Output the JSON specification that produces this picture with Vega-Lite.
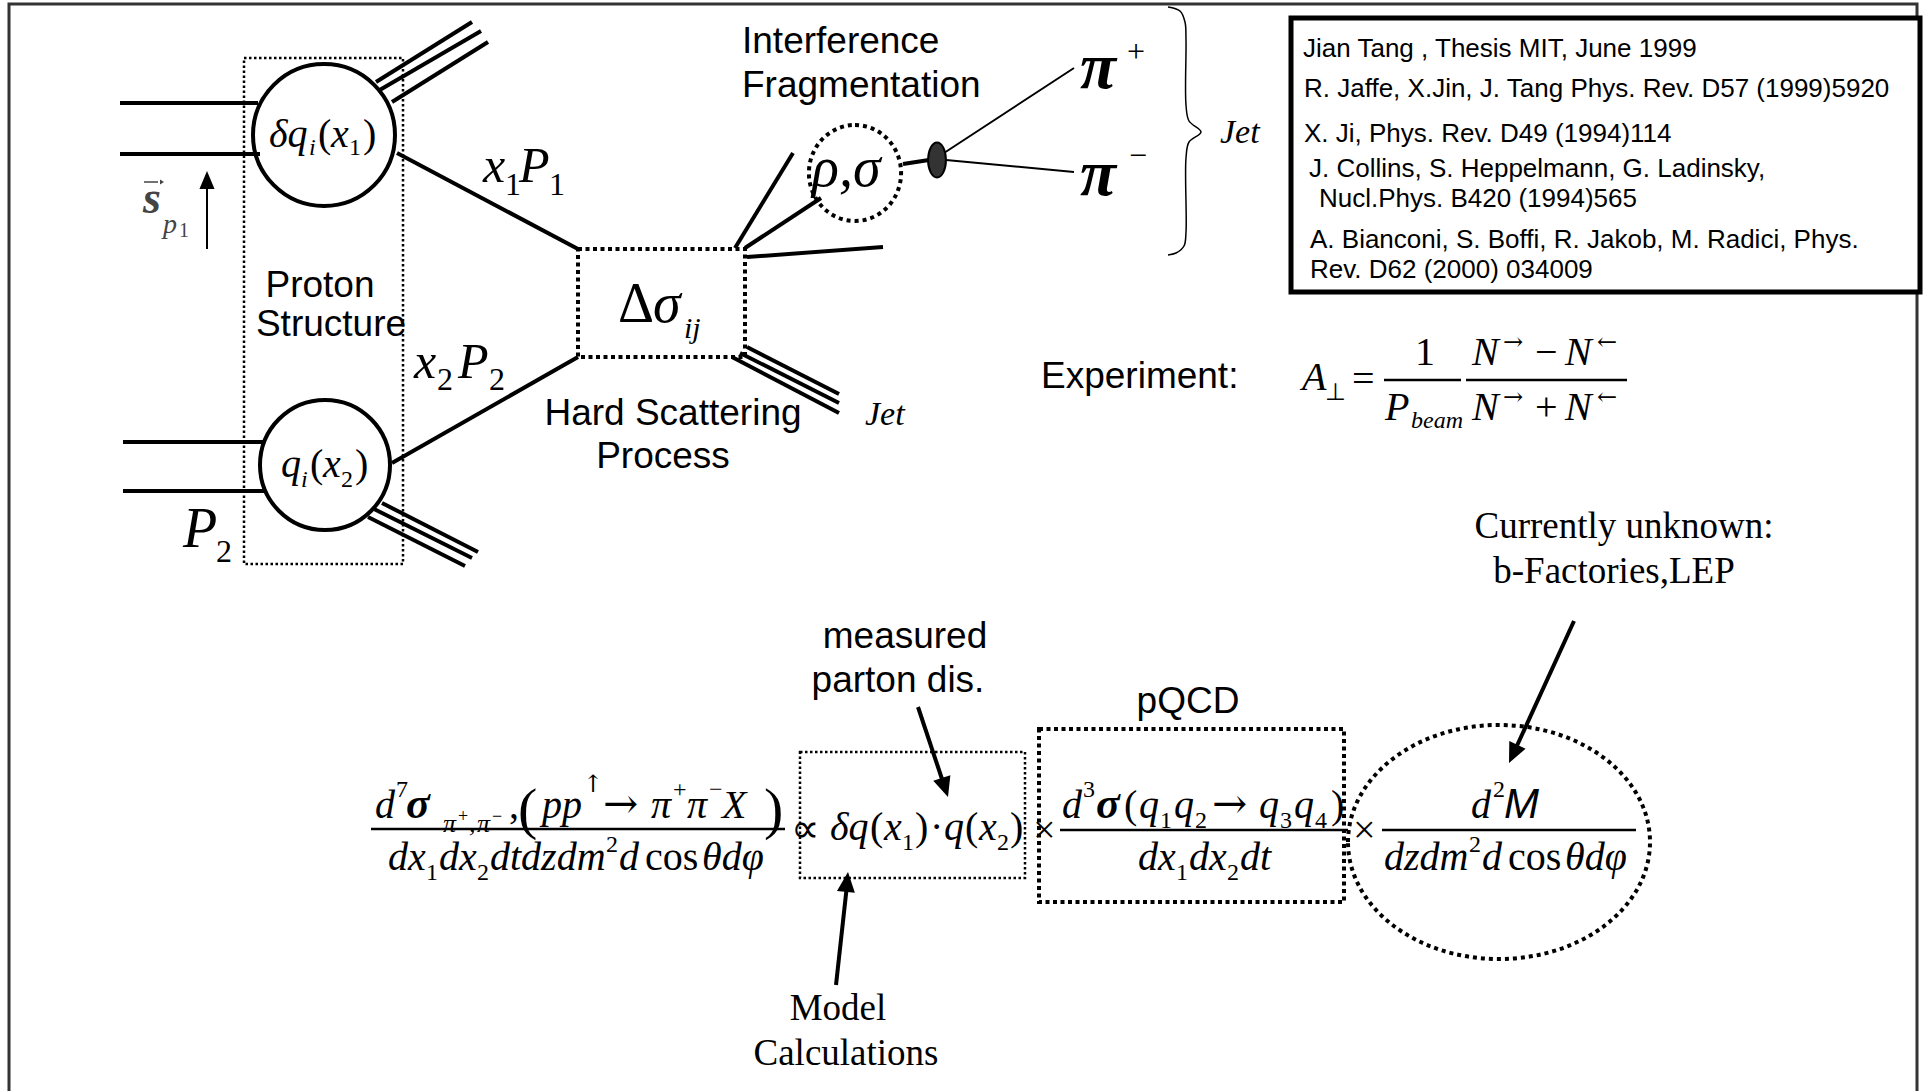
{
"$schema":"https://vega.github.io/schema/vega-lite/v6.json",
"width":1927,"height":1091,
"autosize":{"type":"none"},
"padding":0,
"background":"white",
"config":{"view":{"stroke":null}},
"datasets":{
"frame":[{"x":9,"y":4,"x2":1917,"y2":1200}],
"refbox":[{"x":1291,"y":18,"x2":1920,"y2":292}],
"dotThin":[{"x":244,"y":58,"x2":403,"y2":564},{"x":800,"y":752,"x2":1025,"y2":878}],
"dotThick":[{"x":578,"y":249,"x2":745,"y2":357},{"x":1039,"y":729,"x2":1344,"y2":902}],
"circ1":[{"x":324,"y":135}],
"circ2":[{"x":325,"y":465}],
"rho":[{"x":855,"y":173}],
"ell":[{"x":1499,"y":842}],
"blob":[{"x":937,"y":160}],
"rThick":[
{"x":120,"y":103,"x2":258,"y2":103},{"x":120,"y":154,"x2":260,"y2":154},
{"x":123,"y":442,"x2":265,"y2":442},{"x":123,"y":491,"x2":265,"y2":491},
{"x":397,"y":153,"x2":578,"y2":249},{"x":392,"y":463,"x2":578,"y2":357},
{"x":376,"y":82,"x2":472,"y2":22},{"x":378,"y":91,"x2":481,"y2":31},{"x":392,"y":102,"x2":488,"y2":42},
{"x":382,"y":503,"x2":478,"y2":552},{"x":374,"y":509,"x2":472,"y2":558},{"x":368,"y":517,"x2":465,"y2":566},
{"x":732,"y":357,"x2":839,"y2":413},{"x":740,"y":353,"x2":839,"y2":403},{"x":747,"y":347,"x2":839,"y2":394},
{"x":735,"y":248,"x2":793,"y2":153},{"x":745,"y":248,"x2":821,"y2":198},{"x":747,"y":257,"x2":883,"y2":247},
{"x":918,"y":707,"x2":943,"y2":782},{"x":1574,"y":621,"x2":1515,"y2":750},{"x":836,"y":985,"x2":847,"y2":885},
{"x":903,"y":164,"x2":929,"y2":160}],
"rThin":[{"x":944,"y":153,"x2":1074,"y2":68},{"x":946,"y":160,"x2":1074,"y2":172},{"x":207,"y":249,"x2":207,"y2":186}],
"rVec":[{"x":144,"y":182,"x2":158,"y2":182}],
"rFrac":[{"x":371,"y":829,"x2":785,"y2":829},{"x":1060,"y":830,"x2":1348,"y2":830},{"x":1382,"y":830,"x2":1636,"y2":830},{"x":1384,"y":380,"x2":1461,"y2":380},{"x":1466,"y":380,"x2":1627,"y2":380}],
"brace":[{"i":1,"x":1168,"y":7},{"i":2,"x":1180,"y":11},{"i":3,"x":1185,"y":22},{"i":4,"x":1186,"y":40},{"i":5,"x":1186,"y":105},{"i":6,"x":1189,"y":121},{"i":7,"x":1201,"y":132},{"i":8,"x":1189,"y":142},{"i":9,"x":1186,"y":158},{"i":10,"x":1186,"y":232},{"i":11,"x":1184,"y":246},{"i":12,"x":1176,"y":253},{"i":13,"x":1168,"y":255}],
"ahMeasured":[{"x":948,"y":797}],
"ahCurrent":[{"x":1509,"y":763}],
"ahModel":[{"x":848,"y":872}],
"ahSpin":[{"x":207,"y":171}],
"ahVec":[{"x":164,"y":182}],
"sansC37":[{"x":320,"y":297,"t":"Proton"},{"x":331,"y":336,"t":"Structure"},{"x":673,"y":425,"t":"Hard Scattering"},{"x":663,"y":468,"t":"Process"},{"x":905,"y":648,"t":"measured"},{"x":898,"y":692,"t":"parton dis."},{"x":1188,"y":713,"t":"pQCD"}],
"sansL37":[{"x":742,"y":53,"t":"Interference"},{"x":742,"y":97,"t":"Fragmentation"},{"x":1041,"y":388,"t":"Experiment:"}],
"sans26":[{"x":1303,"y":57,"t":"Jian Tang , Thesis MIT, June 1999"},{"x":1304,"y":97,"t":"R. Jaffe, X.Jin, J. Tang Phys. Rev. D57 (1999)5920"},{"x":1304,"y":142,"t":"X. Ji, Phys. Rev. D49 (1994)114"},{"x":1309,"y":177,"t":"J. Collins, S. Heppelmann, G. Ladinsky,"},{"x":1319,"y":207,"t":"Nucl.Phys. B420 (1994)565"},{"x":1310,"y":248,"t":"A. Bianconi, S. Boffi, R. Jakob, M. Radici, Phys."},{"x":1310,"y":278,"t":"Rev. D62 (2000) 034009"}],
"serifC37":[{"x":1624,"y":538,"t":"Currently unknown:"},{"x":1614,"y":583,"t":"b-Factories,LEP"},{"x":838,"y":1020,"t":"Model"},{"x":846,"y":1065,"t":"Calculations"}],
"jet":[{"x":865,"y":425,"t":"Jet"},{"x":1220,"y":143,"t":"Jet"}],
"i50":[{"x":483,"y":182,"t":"x"},{"x":519,"y":182,"t":"P"},{"x":414,"y":378,"t":"x"},{"x":458,"y":378,"t":"P"}],
"i56":[{"x":183,"y":547,"t":"P"},{"x":653,"y":322,"t":"σ"},{"x":812,"y":186,"t":"ρ,σ"}],
"bi66":[{"x":1080,"y":88,"t":"π"},{"x":1080,"y":195,"t":"π"}],
"r56":[{"x":618,"y":322,"t":"Δ"}],
"r32":[{"x":505,"y":195,"t":"1"},{"x":549,"y":195,"t":"1"},{"x":437,"y":390,"t":"2"},{"x":489,"y":390,"t":"2"},{"x":216,"y":562,"t":"2"},{"x":1127,"y":62,"t":"+"},{"x":1129,"y":166,"t":"−"}],
"i30":[{"x":684,"y":338,"t":"ij"}],
"i40":[{"x":269,"y":147,"t":"δq"},{"x":331,"y":147,"t":"x"},{"x":281,"y":477,"t":"q"},{"x":323,"y":477,"t":"x"},
{"x":375,"y":818,"t":"d"},{"x":542,"y":818,"t":"pp"},{"x":651,"y":818,"t":"π"},{"x":687,"y":818,"t":"π"},{"x":722,"y":818,"t":"X"},
{"x":388,"y":870,"t":"dx"},{"x":439,"y":870,"t":"dx"},{"x":490,"y":870,"t":"dtdzdm"},{"x":619,"y":870,"t":"d"},{"x":702,"y":870,"t":"θdφ"},
{"x":830,"y":840,"t":"δq"},{"x":884,"y":840,"t":"x"},{"x":944,"y":840,"t":"q"},{"x":979,"y":840,"t":"x"},
{"x":1062,"y":818,"t":"d"},{"x":1139,"y":818,"t":"q"},{"x":1174,"y":818,"t":"q"},{"x":1259,"y":818,"t":"q"},{"x":1294,"y":818,"t":"q"},
{"x":1138,"y":870,"t":"dx"},{"x":1189,"y":870,"t":"dx"},{"x":1240,"y":870,"t":"dt"},
{"x":1471,"y":818,"t":"d"},{"x":1384,"y":870,"t":"dzdm"},{"x":1482,"y":870,"t":"d"},{"x":1565,"y":870,"t":"θdφ"},
{"x":1302,"y":390,"t":"A"},{"x":1385,"y":420,"t":"P"},{"x":1472,"y":365,"t":"N"},{"x":1565,"y":365,"t":"N"},{"x":1472,"y":420,"t":"N"},{"x":1565,"y":420,"t":"N"}],
"r40":[{"x":318,"y":147,"t":"("},{"x":363,"y":147,"t":")"},{"x":310,"y":477,"t":"("},{"x":355,"y":477,"t":")"},
{"x":509,"y":818,"t":","},{"x":645,"y":870,"t":"cos"},{"x":1508,"y":870,"t":"cos"},
{"x":791,"y":842,"t":"∝"},{"x":870,"y":840,"t":"("},{"x":915,"y":840,"t":")"},{"x":930,"y":840,"t":"·"},{"x":965,"y":840,"t":"("},{"x":1010,"y":840,"t":")"},
{"x":1033,"y":843,"t":"×"},{"x":1353,"y":843,"t":"×"},
{"x":1124,"y":818,"t":"("},{"x":1331,"y":818,"t":")"},
{"x":1352,"y":392,"t":"="},{"x":1415,"y":365,"t":"1"},{"x":1535,"y":365,"t":"−"},{"x":1535,"y":420,"t":"+"}],
"r24":[{"x":349,"y":155,"t":"1"},{"x":341,"y":487,"t":"2"},
{"x":396,"y":797,"t":"7"},{"x":673,"y":797,"t":"+"},{"x":709,"y":797,"t":"−"},{"x":426,"y":880,"t":"1"},{"x":477,"y":880,"t":"2"},{"x":606,"y":852,"t":"2"},
{"x":902,"y":850,"t":"1"},{"x":997,"y":850,"t":"2"},
{"x":1083,"y":797,"t":"3"},{"x":1160,"y":828,"t":"1"},{"x":1195,"y":828,"t":"2"},{"x":1280,"y":828,"t":"3"},{"x":1315,"y":828,"t":"4"},{"x":1176,"y":880,"t":"1"},{"x":1227,"y":880,"t":"2"},
{"x":1493,"y":797,"t":"2"},{"x":1469,"y":852,"t":"2"},
{"x":1325,"y":400,"t":"⊥"}],
"i26":[{"x":443,"y":832,"t":"π"},{"x":469,"y":832,"t":","},{"x":477,"y":832,"t":"π"}],
"r18":[{"x":458,"y":822,"t":"+"},{"x":492,"y":822,"t":"−"}],
"i24":[{"x":309,"y":155,"t":"i"},{"x":301,"y":487,"t":"i"},{"x":1411,"y":428,"t":"beam"}],
"arrBig":[{"x":603,"y":818,"t":"→"},{"x":1212,"y":818,"t":"→"}],
"arrSmall":[{"x":583,"y":792,"t":"↑"},{"x":1503,"y":350,"t":"→"},{"x":1597,"y":350,"t":"←"},{"x":1503,"y":405,"t":"→"},{"x":1597,"y":405,"t":"←"}],
"r58":[{"x":518,"y":828,"t":"("},{"x":764,"y":828,"t":")"}],
"bi44":[{"x":406,"y":818,"t":"σ"},{"x":1096,"y":818,"t":"σ"}],
"sansI42":[{"x":1504,"y":818,"t":"M"}],
"sS":[{"x":143,"y":213,"t":"s"}],
"sP":[{"x":163,"y":233,"t":"p"}],
"s1":[{"x":179,"y":237,"t":"1"}]
},
"layer":[
{"data":{"name":"frame"},"mark":{"type":"rect","filled":false,"stroke":"#333333","strokeWidth":3},
 "encoding":{"x":{"field":"x","type":"quantitative","scale":{"domain":[0,1927],"nice":false,"zero":false},"axis":null},"y":{"field":"y","type":"quantitative","scale":{"domain":[0,1091],"nice":false,"zero":false,"reverse":true},"axis":null},"x2":{"field":"x2"},"y2":{"field":"y2"}}},
{"data":{"name":"refbox"},"mark":{"type":"rect","fill":"white","stroke":"black","strokeWidth":5},
 "encoding":{"x":{"field":"x","type":"quantitative","scale":{"domain":[0,1927],"nice":false,"zero":false},"axis":null},"y":{"field":"y","type":"quantitative","scale":{"domain":[0,1091],"nice":false,"zero":false,"reverse":true},"axis":null},"x2":{"field":"x2"},"y2":{"field":"y2"}}},
{"data":{"name":"dotThin"},"mark":{"type":"rect","filled":false,"stroke":"black","strokeWidth":2.5,"strokeDash":[2.5,2.5]},
 "encoding":{"x":{"field":"x","type":"quantitative","scale":{"domain":[0,1927],"nice":false,"zero":false},"axis":null},"y":{"field":"y","type":"quantitative","scale":{"domain":[0,1091],"nice":false,"zero":false,"reverse":true},"axis":null},"x2":{"field":"x2"},"y2":{"field":"y2"}}},
{"data":{"name":"dotThick"},"mark":{"type":"rect","filled":false,"stroke":"black","strokeWidth":4,"strokeDash":[4,3.5]},
 "encoding":{"x":{"field":"x","type":"quantitative","scale":{"domain":[0,1927],"nice":false,"zero":false},"axis":null},"y":{"field":"y","type":"quantitative","scale":{"domain":[0,1091],"nice":false,"zero":false,"reverse":true},"axis":null},"x2":{"field":"x2"},"y2":{"field":"y2"}}},
{"data":{"name":"circ1"},"mark":{"type":"point","shape":"circle","size":20164,"filled":false,"color":"black","strokeWidth":4,"opacity":1},
 "encoding":{"x":{"field":"x","type":"quantitative","scale":{"domain":[0,1927],"nice":false,"zero":false},"axis":null},"y":{"field":"y","type":"quantitative","scale":{"domain":[0,1091],"nice":false,"zero":false,"reverse":true},"axis":null}}},
{"data":{"name":"circ2"},"mark":{"type":"point","shape":"circle","size":16900,"filled":false,"color":"black","strokeWidth":4,"opacity":1},
 "encoding":{"x":{"field":"x","type":"quantitative","scale":{"domain":[0,1927],"nice":false,"zero":false},"axis":null},"y":{"field":"y","type":"quantitative","scale":{"domain":[0,1091],"nice":false,"zero":false,"reverse":true},"axis":null}}},
{"data":{"name":"rho"},"mark":{"type":"point","shape":"M0,-1A0.96,1,0,1,1,0,1A0.96,1,0,1,1,0,-1Z","size":9216,"filled":false,"color":"black","strokeWidth":4,"strokeDash":[4,4],"opacity":1},
 "encoding":{"x":{"field":"x","type":"quantitative","scale":{"domain":[0,1927],"nice":false,"zero":false},"axis":null},"y":{"field":"y","type":"quantitative","scale":{"domain":[0,1091],"nice":false,"zero":false,"reverse":true},"axis":null}}},
{"data":{"name":"ell"},"mark":{"type":"point","shape":"M-1,0A1,0.775,0,1,1,1,0A1,0.775,0,1,1,-1,0Z","size":91204,"filled":false,"color":"black","strokeWidth":4,"strokeDash":[4,4],"opacity":1},
 "encoding":{"x":{"field":"x","type":"quantitative","scale":{"domain":[0,1927],"nice":false,"zero":false},"axis":null},"y":{"field":"y","type":"quantitative","scale":{"domain":[0,1091],"nice":false,"zero":false,"reverse":true},"axis":null}}},
{"data":{"name":"rThick"},"mark":{"type":"rule","color":"black","strokeWidth":4},
 "encoding":{"x":{"field":"x","type":"quantitative","scale":{"domain":[0,1927],"nice":false,"zero":false},"axis":null},"y":{"field":"y","type":"quantitative","scale":{"domain":[0,1091],"nice":false,"zero":false,"reverse":true},"axis":null},"x2":{"field":"x2"},"y2":{"field":"y2"}}},
{"data":{"name":"rThin"},"mark":{"type":"rule","color":"black","strokeWidth":2},
 "encoding":{"x":{"field":"x","type":"quantitative","scale":{"domain":[0,1927],"nice":false,"zero":false},"axis":null},"y":{"field":"y","type":"quantitative","scale":{"domain":[0,1091],"nice":false,"zero":false,"reverse":true},"axis":null},"x2":{"field":"x2"},"y2":{"field":"y2"}}},
{"data":{"name":"rVec"},"mark":{"type":"rule","color":"#444444","strokeWidth":1.5},
 "encoding":{"x":{"field":"x","type":"quantitative","scale":{"domain":[0,1927],"nice":false,"zero":false},"axis":null},"y":{"field":"y","type":"quantitative","scale":{"domain":[0,1091],"nice":false,"zero":false,"reverse":true},"axis":null},"x2":{"field":"x2"},"y2":{"field":"y2"}}},
{"data":{"name":"rFrac"},"mark":{"type":"rule","color":"black","strokeWidth":2.5},
 "encoding":{"x":{"field":"x","type":"quantitative","scale":{"domain":[0,1927],"nice":false,"zero":false},"axis":null},"y":{"field":"y","type":"quantitative","scale":{"domain":[0,1091],"nice":false,"zero":false,"reverse":true},"axis":null},"x2":{"field":"x2"},"y2":{"field":"y2"}}},
{"data":{"name":"blob"},"mark":{"type":"point","shape":"M0,-1A0.51,1,0,1,1,0,1A0.51,1,0,1,1,0,-1Z","size":1225,"filled":true,"fill":"#333333","stroke":"black","strokeWidth":2,"opacity":1},
 "encoding":{"x":{"field":"x","type":"quantitative","scale":{"domain":[0,1927],"nice":false,"zero":false},"axis":null},"y":{"field":"y","type":"quantitative","scale":{"domain":[0,1091],"nice":false,"zero":false,"reverse":true},"axis":null}}},
{"data":{"name":"brace"},"mark":{"type":"line","interpolate":"catmull-rom","color":"black","strokeWidth":1.5},
 "encoding":{"x":{"field":"x","type":"quantitative","scale":{"domain":[0,1927],"nice":false,"zero":false},"axis":null},"y":{"field":"y","type":"quantitative","scale":{"domain":[0,1091],"nice":false,"zero":false,"reverse":true},"axis":null},"order":{"field":"i","type":"quantitative"}}},
{"data":{"name":"ahMeasured"},"mark":{"type":"point","shape":"M0,0L-0.45,1L0.45,1Z","size":1600,"filled":true,"color":"black","opacity":1,"angle":162},
 "encoding":{"x":{"field":"x","type":"quantitative","scale":{"domain":[0,1927],"nice":false,"zero":false},"axis":null},"y":{"field":"y","type":"quantitative","scale":{"domain":[0,1091],"nice":false,"zero":false,"reverse":true},"axis":null}}},
{"data":{"name":"ahCurrent"},"mark":{"type":"point","shape":"M0,0L-0.45,1L0.45,1Z","size":1600,"filled":true,"color":"black","opacity":1,"angle":205},
 "encoding":{"x":{"field":"x","type":"quantitative","scale":{"domain":[0,1927],"nice":false,"zero":false},"axis":null},"y":{"field":"y","type":"quantitative","scale":{"domain":[0,1091],"nice":false,"zero":false,"reverse":true},"axis":null}}},
{"data":{"name":"ahModel"},"mark":{"type":"point","shape":"M0,0L-0.45,1L0.45,1Z","size":1600,"filled":true,"color":"black","opacity":1,"angle":6},
 "encoding":{"x":{"field":"x","type":"quantitative","scale":{"domain":[0,1927],"nice":false,"zero":false},"axis":null},"y":{"field":"y","type":"quantitative","scale":{"domain":[0,1091],"nice":false,"zero":false,"reverse":true},"axis":null}}},
{"data":{"name":"ahSpin"},"mark":{"type":"point","shape":"M0,0L-0.42,1L0.42,1Z","size":1296,"filled":true,"color":"black","opacity":1},
 "encoding":{"x":{"field":"x","type":"quantitative","scale":{"domain":[0,1927],"nice":false,"zero":false},"axis":null},"y":{"field":"y","type":"quantitative","scale":{"domain":[0,1091],"nice":false,"zero":false,"reverse":true},"axis":null}}},
{"data":{"name":"ahVec"},"mark":{"type":"point","shape":"M0,0L-0.6,1L0.6,1Z","size":64,"filled":true,"color":"#444444","opacity":1,"angle":90},
 "encoding":{"x":{"field":"x","type":"quantitative","scale":{"domain":[0,1927],"nice":false,"zero":false},"axis":null},"y":{"field":"y","type":"quantitative","scale":{"domain":[0,1091],"nice":false,"zero":false,"reverse":true},"axis":null}}},
{"data":{"name":"sansC37"},"mark":{"type":"text","font":"Liberation Sans","fontSize":37,"align":"center","baseline":"alphabetic","color":"black"},
 "encoding":{"x":{"field":"x","type":"quantitative","scale":{"domain":[0,1927],"nice":false,"zero":false},"axis":null},"y":{"field":"y","type":"quantitative","scale":{"domain":[0,1091],"nice":false,"zero":false,"reverse":true},"axis":null},"text":{"field":"t"}}},
{"data":{"name":"sansL37"},"mark":{"type":"text","font":"Liberation Sans","fontSize":37,"align":"left","baseline":"alphabetic","color":"black"},
 "encoding":{"x":{"field":"x","type":"quantitative","scale":{"domain":[0,1927],"nice":false,"zero":false},"axis":null},"y":{"field":"y","type":"quantitative","scale":{"domain":[0,1091],"nice":false,"zero":false,"reverse":true},"axis":null},"text":{"field":"t"}}},
{"data":{"name":"sans26"},"mark":{"type":"text","font":"Liberation Sans","fontSize":26,"align":"left","baseline":"alphabetic","color":"black"},
 "encoding":{"x":{"field":"x","type":"quantitative","scale":{"domain":[0,1927],"nice":false,"zero":false},"axis":null},"y":{"field":"y","type":"quantitative","scale":{"domain":[0,1091],"nice":false,"zero":false,"reverse":true},"axis":null},"text":{"field":"t"}}},
{"data":{"name":"serifC37"},"mark":{"type":"text","font":"Liberation Serif","fontSize":37,"align":"center","baseline":"alphabetic","color":"black"},
 "encoding":{"x":{"field":"x","type":"quantitative","scale":{"domain":[0,1927],"nice":false,"zero":false},"axis":null},"y":{"field":"y","type":"quantitative","scale":{"domain":[0,1091],"nice":false,"zero":false,"reverse":true},"axis":null},"text":{"field":"t"}}},
{"data":{"name":"jet"},"mark":{"type":"text","font":"Liberation Serif","fontSize":34,"fontStyle":"italic","align":"left","baseline":"alphabetic","color":"black"},
 "encoding":{"x":{"field":"x","type":"quantitative","scale":{"domain":[0,1927],"nice":false,"zero":false},"axis":null},"y":{"field":"y","type":"quantitative","scale":{"domain":[0,1091],"nice":false,"zero":false,"reverse":true},"axis":null},"text":{"field":"t"}}},
{"data":{"name":"i50"},"mark":{"type":"text","font":"Liberation Serif","fontSize":50,"fontStyle":"italic","align":"left","baseline":"alphabetic","color":"black"},
 "encoding":{"x":{"field":"x","type":"quantitative","scale":{"domain":[0,1927],"nice":false,"zero":false},"axis":null},"y":{"field":"y","type":"quantitative","scale":{"domain":[0,1091],"nice":false,"zero":false,"reverse":true},"axis":null},"text":{"field":"t"}}},
{"data":{"name":"i56"},"mark":{"type":"text","font":"Liberation Serif","fontSize":56,"fontStyle":"italic","align":"left","baseline":"alphabetic","color":"black"},
 "encoding":{"x":{"field":"x","type":"quantitative","scale":{"domain":[0,1927],"nice":false,"zero":false},"axis":null},"y":{"field":"y","type":"quantitative","scale":{"domain":[0,1091],"nice":false,"zero":false,"reverse":true},"axis":null},"text":{"field":"t"}}},
{"data":{"name":"bi66"},"mark":{"type":"text","font":"Liberation Serif","fontSize":66,"fontStyle":"italic","fontWeight":"bold","align":"left","baseline":"alphabetic","color":"black"},
 "encoding":{"x":{"field":"x","type":"quantitative","scale":{"domain":[0,1927],"nice":false,"zero":false},"axis":null},"y":{"field":"y","type":"quantitative","scale":{"domain":[0,1091],"nice":false,"zero":false,"reverse":true},"axis":null},"text":{"field":"t"}}},
{"data":{"name":"r56"},"mark":{"type":"text","font":"Liberation Serif","fontSize":56,"align":"left","baseline":"alphabetic","color":"black"},
 "encoding":{"x":{"field":"x","type":"quantitative","scale":{"domain":[0,1927],"nice":false,"zero":false},"axis":null},"y":{"field":"y","type":"quantitative","scale":{"domain":[0,1091],"nice":false,"zero":false,"reverse":true},"axis":null},"text":{"field":"t"}}},
{"data":{"name":"r32"},"mark":{"type":"text","font":"Liberation Serif","fontSize":32,"align":"left","baseline":"alphabetic","color":"black"},
 "encoding":{"x":{"field":"x","type":"quantitative","scale":{"domain":[0,1927],"nice":false,"zero":false},"axis":null},"y":{"field":"y","type":"quantitative","scale":{"domain":[0,1091],"nice":false,"zero":false,"reverse":true},"axis":null},"text":{"field":"t"}}},
{"data":{"name":"i30"},"mark":{"type":"text","font":"Liberation Serif","fontSize":30,"fontStyle":"italic","align":"left","baseline":"alphabetic","color":"black"},
 "encoding":{"x":{"field":"x","type":"quantitative","scale":{"domain":[0,1927],"nice":false,"zero":false},"axis":null},"y":{"field":"y","type":"quantitative","scale":{"domain":[0,1091],"nice":false,"zero":false,"reverse":true},"axis":null},"text":{"field":"t"}}},
{"data":{"name":"i40"},"mark":{"type":"text","font":"Liberation Serif","fontSize":40,"fontStyle":"italic","align":"left","baseline":"alphabetic","color":"black"},
 "encoding":{"x":{"field":"x","type":"quantitative","scale":{"domain":[0,1927],"nice":false,"zero":false},"axis":null},"y":{"field":"y","type":"quantitative","scale":{"domain":[0,1091],"nice":false,"zero":false,"reverse":true},"axis":null},"text":{"field":"t"}}},
{"data":{"name":"r40"},"mark":{"type":"text","font":"Liberation Serif","fontSize":40,"align":"left","baseline":"alphabetic","color":"black"},
 "encoding":{"x":{"field":"x","type":"quantitative","scale":{"domain":[0,1927],"nice":false,"zero":false},"axis":null},"y":{"field":"y","type":"quantitative","scale":{"domain":[0,1091],"nice":false,"zero":false,"reverse":true},"axis":null},"text":{"field":"t"}}},
{"data":{"name":"r24"},"mark":{"type":"text","font":"Liberation Serif","fontSize":24,"align":"left","baseline":"alphabetic","color":"black"},
 "encoding":{"x":{"field":"x","type":"quantitative","scale":{"domain":[0,1927],"nice":false,"zero":false},"axis":null},"y":{"field":"y","type":"quantitative","scale":{"domain":[0,1091],"nice":false,"zero":false,"reverse":true},"axis":null},"text":{"field":"t"}}},
{"data":{"name":"i26"},"mark":{"type":"text","font":"Liberation Serif","fontSize":26,"fontStyle":"italic","align":"left","baseline":"alphabetic","color":"black"},
 "encoding":{"x":{"field":"x","type":"quantitative","scale":{"domain":[0,1927],"nice":false,"zero":false},"axis":null},"y":{"field":"y","type":"quantitative","scale":{"domain":[0,1091],"nice":false,"zero":false,"reverse":true},"axis":null},"text":{"field":"t"}}},
{"data":{"name":"r18"},"mark":{"type":"text","font":"Liberation Serif","fontSize":18,"align":"left","baseline":"alphabetic","color":"black"},
 "encoding":{"x":{"field":"x","type":"quantitative","scale":{"domain":[0,1927],"nice":false,"zero":false},"axis":null},"y":{"field":"y","type":"quantitative","scale":{"domain":[0,1091],"nice":false,"zero":false,"reverse":true},"axis":null},"text":{"field":"t"}}},
{"data":{"name":"i24"},"mark":{"type":"text","font":"Liberation Serif","fontSize":24,"fontStyle":"italic","align":"left","baseline":"alphabetic","color":"black"},
 "encoding":{"x":{"field":"x","type":"quantitative","scale":{"domain":[0,1927],"nice":false,"zero":false},"axis":null},"y":{"field":"y","type":"quantitative","scale":{"domain":[0,1091],"nice":false,"zero":false,"reverse":true},"axis":null},"text":{"field":"t"}}},
{"data":{"name":"arrBig"},"mark":{"type":"text","font":"DejaVu Serif","fontSize":42,"align":"left","baseline":"alphabetic","color":"black"},
 "encoding":{"x":{"field":"x","type":"quantitative","scale":{"domain":[0,1927],"nice":false,"zero":false},"axis":null},"y":{"field":"y","type":"quantitative","scale":{"domain":[0,1091],"nice":false,"zero":false,"reverse":true},"axis":null},"text":{"field":"t"}}},
{"data":{"name":"arrSmall"},"mark":{"type":"text","font":"DejaVu Serif","fontSize":24,"align":"left","baseline":"alphabetic","color":"black"},
 "encoding":{"x":{"field":"x","type":"quantitative","scale":{"domain":[0,1927],"nice":false,"zero":false},"axis":null},"y":{"field":"y","type":"quantitative","scale":{"domain":[0,1091],"nice":false,"zero":false,"reverse":true},"axis":null},"text":{"field":"t"}}},
{"data":{"name":"r58"},"mark":{"type":"text","font":"Liberation Serif","fontSize":58,"align":"left","baseline":"alphabetic","color":"black"},
 "encoding":{"x":{"field":"x","type":"quantitative","scale":{"domain":[0,1927],"nice":false,"zero":false},"axis":null},"y":{"field":"y","type":"quantitative","scale":{"domain":[0,1091],"nice":false,"zero":false,"reverse":true},"axis":null},"text":{"field":"t"}}},
{"data":{"name":"bi44"},"mark":{"type":"text","font":"Liberation Serif","fontSize":44,"fontStyle":"italic","fontWeight":"bold","align":"left","baseline":"alphabetic","color":"black"},
 "encoding":{"x":{"field":"x","type":"quantitative","scale":{"domain":[0,1927],"nice":false,"zero":false},"axis":null},"y":{"field":"y","type":"quantitative","scale":{"domain":[0,1091],"nice":false,"zero":false,"reverse":true},"axis":null},"text":{"field":"t"}}},
{"data":{"name":"sansI42"},"mark":{"type":"text","font":"Liberation Sans","fontSize":42,"fontStyle":"italic","align":"left","baseline":"alphabetic","color":"black"},
 "encoding":{"x":{"field":"x","type":"quantitative","scale":{"domain":[0,1927],"nice":false,"zero":false},"axis":null},"y":{"field":"y","type":"quantitative","scale":{"domain":[0,1091],"nice":false,"zero":false,"reverse":true},"axis":null},"text":{"field":"t"}}},
{"data":{"name":"sS"},"mark":{"type":"text","font":"Liberation Serif","fontSize":46,"fontStyle":"italic","fontWeight":"bold","align":"left","baseline":"alphabetic","color":"#444444"},
 "encoding":{"x":{"field":"x","type":"quantitative","scale":{"domain":[0,1927],"nice":false,"zero":false},"axis":null},"y":{"field":"y","type":"quantitative","scale":{"domain":[0,1091],"nice":false,"zero":false,"reverse":true},"axis":null},"text":{"field":"t"}}},
{"data":{"name":"sP"},"mark":{"type":"text","font":"Liberation Serif","fontSize":28,"fontStyle":"italic","align":"left","baseline":"alphabetic","color":"#444444"},
 "encoding":{"x":{"field":"x","type":"quantitative","scale":{"domain":[0,1927],"nice":false,"zero":false},"axis":null},"y":{"field":"y","type":"quantitative","scale":{"domain":[0,1091],"nice":false,"zero":false,"reverse":true},"axis":null},"text":{"field":"t"}}},
{"data":{"name":"s1"},"mark":{"type":"text","font":"Liberation Serif","fontSize":20,"align":"left","baseline":"alphabetic","color":"#444444"},
 "encoding":{"x":{"field":"x","type":"quantitative","scale":{"domain":[0,1927],"nice":false,"zero":false},"axis":null},"y":{"field":"y","type":"quantitative","scale":{"domain":[0,1091],"nice":false,"zero":false,"reverse":true},"axis":null},"text":{"field":"t"}}}
]
}
